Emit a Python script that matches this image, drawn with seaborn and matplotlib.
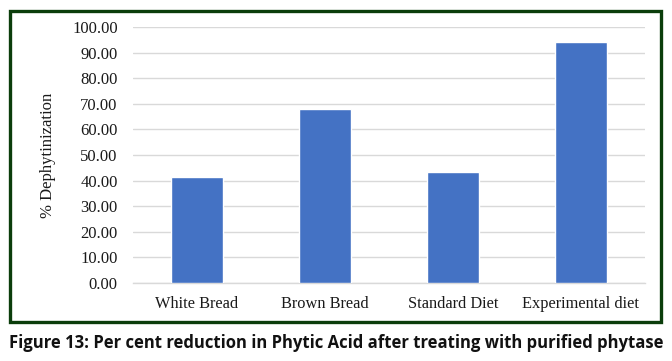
import matplotlib
matplotlib.use("Agg")
import matplotlib.pyplot as plt
import seaborn as sns
import pandas as pd
from matplotlib.patches import Rectangle

categories = ["White Bread", "Brown Bread", "Standard Diet", "Experimental diet"]
values = [41.3, 68.0, 43.4, 94.1]
yticks = [0, 10, 20, 30, 40, 50, 60, 70, 80, 90, 100]

df = pd.DataFrame({"cat": categories, "val": values})

sns.set_theme(style="white")
plt.rcParams['font.family'] = ['Liberation Serif', 'DejaVu Serif']

W, H = 672, 361
fig = plt.figure(figsize=(W / 100, H / 100), dpi=100)
ax = fig.add_axes([133 / W, 1 - 283 / H, (645 - 133) / W, (283 - 27) / H])

sns.barplot(data=df, x="cat", y="val", color="#4472C4", saturation=1, width=0.4, ax=ax, zorder=3)

ax.set_ylim(0, 100)
ax.set_xlim(-0.5, 3.5)
ax.set_yticks(yticks)
ax.set_yticklabels([f"{t:.2f}" for t in yticks], fontsize=12, color="#1a1a1a")
ax.tick_params(axis="x", labelsize=11.8, colors="#1a1a1a", length=0, pad=9)
ax.tick_params(axis="y", length=0, pad=11)
for lab in ax.get_xticklabels():
    lab.set_color("#1a1a1a")
ax.grid(axis="y", color="#d9d9d9", linewidth=1, zorder=0)
ax.set_axisbelow(True)
for s in ["top", "right", "left"]:
    ax.spines[s].set_visible(False)
ax.spines["bottom"].set_color("#d9d9d9")
ax.spines["bottom"].set_linewidth(1)
ax.set_xlabel("")
ax.set_ylabel("")

fig.text(48 / W, 1 - 155 / H, "% Dephytinization", rotation=90, ha="center", va="center",
         fontsize=12, color="#1a1a1a")

border = Rectangle((10 / W, 1 - 322 / H), (661 - 10) / W, (322 - 11) / H,
                   transform=fig.transFigure, fill=False, edgecolor="#0b3d0b", linewidth=2.4)
fig.patches.append(border)

fig.text(336 / W, 1 - 343 / H, "Figure 13: Per cent reduction in Phytic Acid after treating with purified phytase",
         ha="center", va="center", fontsize=12, fontweight="bold", family=["Open Sans", "DejaVu Sans"],
         color="#111111")

fig.savefig("out.png", dpi=100)
